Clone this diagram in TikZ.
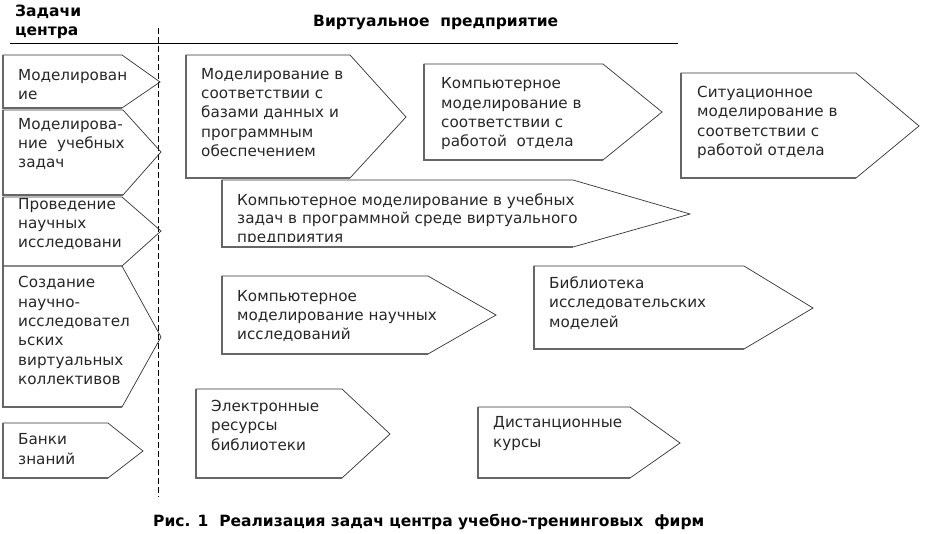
\documentclass[tikz,border=0pt]{standalone}
\usepackage{fontspec}
\setmainfont{DejaVu Sans}

\begin{document}
\begin{tikzpicture}[
		x=1pt, y=-1pt,
		every node/.style={inner sep=0pt},
		arrowbox/.style={draw=black!80, line width=0.7pt},
		shadowedge/.style={draw=black!60, line width=1.5pt},
		boxtext/.style={anchor=north west, align=left, text=black!85, font=\fontsize{15.2}{19.3}\selectfont},
		headtext/.style={align=left, font=\bfseries\fontsize{15.5}{19}\selectfont}
		]
		\useasboundingbox (0,0) rectangle (925,533);

		% headers
		\node[headtext, anchor=north west] (tasks) at (15,5) {Задачи\\центра};
		\node[headtext, anchor=base west] (virtual) at (313,26.5) {Виртуальное\ \ предприятие};
		\coordinate (rulestart) at (10,43);
		\coordinate (ruleend) at (678,43);
		\draw[line width=0.8pt] (rulestart) -- (ruleend);
		\coordinate (divtop) at (158,28);
		\coordinate (divbottom) at (158,497);
		\draw[line width=0.8pt, dash pattern=on 6pt off 3pt] (divtop) -- (divbottom);

		% tasks of the centre
		\draw[arrowbox] (3,55) -- (122,55) -- (160,82) -- (122,108) -- (3,108) -- cycle;
		\draw[shadowedge] (122,108) -- (3,108) -- (3,55);
		\node[boxtext] (model) at (18,69) {Моделирован\\ие};
		\draw[arrowbox] (3,110) -- (123,110) -- (161,152) -- (123,195) -- (3,195) -- cycle;
		\draw[shadowedge] (123,195) -- (3,195) -- (3,110);
		\node[boxtext] (tasksmodel) at (18,118) {Моделирова-\\ние\ \ учебных\\задач};
		\draw[arrowbox] (3,197) -- (122,197) -- (161,231) -- (122,266) -- (3,266) -- cycle;
		\draw[shadowedge] (3,266) -- (3,197);
		\node[boxtext] (research) at (18,198) {Проведение\\научных\\исследовани};
		\draw[arrowbox] (3,266) -- (122,266) -- (161,337) -- (122,407) -- (3,407) -- cycle;
		\draw[shadowedge] (122,407) -- (3,407) -- (3,266);
		\node[boxtext] (teams) at (18,276.5) {Создание\\научно-\\исследовател\\ьских\\виртуальных\\коллективов};
		\draw[arrowbox] (3,423) -- (108,423) -- (143,451) -- (108,478) -- (3,478) -- cycle;
		\draw[shadowedge] (108,478) -- (3,478) -- (3,423);
		\node[boxtext] (banks) at (18,433.5) {Банки\\знаний};

		% virtual enterprise
		\draw[arrowbox] (186,55) -- (350,55) -- (406,117) -- (350,178) -- (186,178) -- cycle;
		\draw[shadowedge] (350,178) -- (186,178) -- (186,55);
		\node[boxtext] (dbmodel) at (201,68) {Моделирование в\\соответствии с\\базами данных и\\программным\\обеспечением};
		\draw[arrowbox] (424,64) -- (603,64) -- (662,112) -- (603,160) -- (424,160) -- cycle;
		\draw[shadowedge] (603,160) -- (424,160) -- (424,64);
		\node[boxtext] (compdept) at (441,77.5) {Компьютерное\\моделирование в\\соответствии с\\работой\ \ отдела};
		\draw[arrowbox] (681,73) -- (856,73) -- (919,126) -- (856,178) -- (681,178) -- cycle;
		\draw[shadowedge] (856,178) -- (681,178) -- (681,73);
		\node[boxtext] (situation) at (697,86) {Ситуационное\\моделирование в\\соответствии с\\работой отдела};
		\draw[arrowbox] (222,180) -- (573,180) -- (690,214) -- (573,247) -- (222,247) -- cycle;
		\draw[shadowedge] (573,247) -- (222,247) -- (222,180);
		\begin{scope}
			\clip (222,180) rectangle (690,241.5);
			\node[boxtext, font=\fontsize{15.2}{18.4}\selectfont] (comptasks) at (237,193.5) {Компьютерное моделирование в учебных\\задач в программной среде виртуального\\предприятия};
		\end{scope}
		\draw[arrowbox] (222,276) -- (428,276) -- (496,315) -- (428,354) -- (222,354) -- cycle;
		\draw[shadowedge] (428,354) -- (222,354) -- (222,276);
		\node[boxtext] (compresearch) at (237,290) {Компьютерное\\моделирование научных\\исследований};
		\draw[arrowbox] (534,266) -- (744,266) -- (813,308) -- (744,349) -- (534,349) -- cycle;
		\draw[shadowedge] (744,349) -- (534,349) -- (534,266);
		\node[boxtext] (library) at (549,276.5) {Библиотека\\исследовательских\\моделей};
		\draw[arrowbox] (196,389) -- (342,389) -- (390,434) -- (342,478) -- (196,478) -- cycle;
		\draw[shadowedge] (342,478) -- (196,478) -- (196,389);
		\node[boxtext] (eres) at (211,400) {Электронные\\ресурсы\\библиотеки};
		\draw[arrowbox] (478,407) -- (630,407) -- (680,443) -- (630,478) -- (478,478) -- cycle;
		\draw[shadowedge] (630,478) -- (478,478) -- (478,407);
		\node[boxtext] (courses) at (493,416.5) {Дистанционные\\курсы};

		% caption
		\node[headtext, anchor=base west] (caption) at (153,526) {Рис. 1\ \ Реализация задач центра учебно-тренинговых\ \ фирм};
\end{tikzpicture}
\end{document}
